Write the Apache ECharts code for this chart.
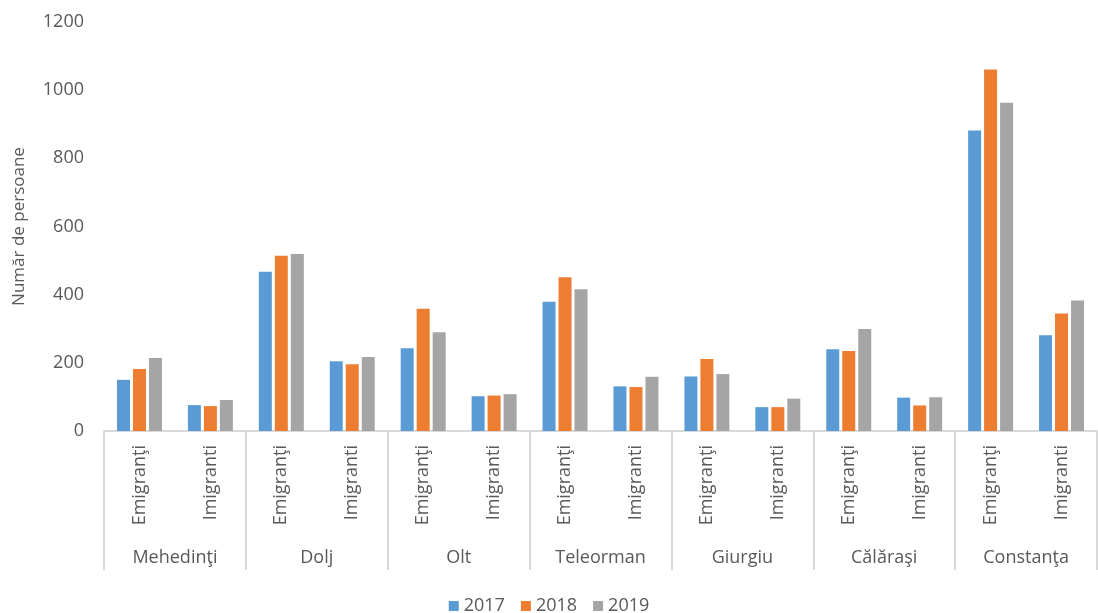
<!DOCTYPE html>
<html>
<head>
<meta charset="utf-8">
<script src="https://cdn.jsdelivr.net/npm/echarts@6/dist/echarts.min.js"></script>
<style>
html, body { margin: 0; padding: 0; background: #fff; }
#chart { width: 1098px; height: 613px; }
</style>
</head>
<body>
<div id="chart"></div>
<script>
var subCategories = ['Emigranţi', 'Imigranti', 'Emigranţi', 'Imigranti', 'Emigranţi', 'Imigranti',
    'Emigranţi', 'Imigranti', 'Emigranţi', 'Imigranti', 'Emigranţi', 'Imigranti', 'Emigranţi', 'Imigranti'];
var counties = ['Mehedinţi', 'Dolj', 'Olt', 'Teleorman', 'Giurgiu', 'Călăraşi', 'Constanţa'];
var years = ['2017', '2018', '2019'];
var values2017 = [150, 76, 467, 205, 243, 102, 379, 131, 160, 70, 240, 98, 882, 281];
var values2018 = [182, 73, 514, 196, 359, 104, 451, 129, 211, 70, 235, 75, 1061, 345];
var values2019 = [214, 91, 519, 217, 290, 108, 416, 159, 167, 95, 299, 99, 963, 383];
var yTicks = [0, 200, 400, 600, 800, 1000, 1200];

function drawChart() {
    var dom = document.getElementById('chart');
    var myChart = echarts.init(dom);
    var font = '"Open Sans", "Noto Sans", sans-serif';
    var colors = ['#5b9bd5', '#ed7d31', '#a5a5a5'];
    var allValues = [values2017, values2018, values2019];

    var series = years.map(function (y, i) {
        return {
            name: y,
            type: 'bar',
            xAxisIndex: 0,
            data: allValues[i],
            barWidth: 13,
            barGap: '23%',
            itemStyle: { color: colors[i] }
        };
    });

    var option = {
        animation: false,
        color: colors,
        textStyle: { fontFamily: font },
        grid: {
            left: 104,
            right: 1,
            top: 22,
            bottom: 182
        },
        legend: {
            data: years,
            top: 592,
            left: 'center',
            itemWidth: 10,
            itemHeight: 10,
            itemGap: 16,
            icon: 'rect',
            textStyle: { fontSize: 18, color: '#595959', fontFamily: font }
        },
        xAxis: [
            {
                type: 'category',
                data: subCategories,
                position: 'bottom',
                axisLine: { lineStyle: { color: '#d9d9d9', width: 2 } },
                axisTick: { show: false },
                axisLabel: {
                    interval: 0,
                    rotate: 90,
                    margin: 14,
                    fontSize: 18,
                    color: '#595959',
                    fontFamily: font
                }
            },
            {
                type: 'category',
                data: counties,
                position: 'bottom',
                axisLine: { show: false },
                axisTick: {
                    show: true,
                    length: 139,
                    lineStyle: { color: '#d9d9d9', width: 2 }
                },
                axisLabel: {
                    interval: 0,
                    margin: 118,
                    fontSize: 18,
                    color: '#595959',
                    fontFamily: font
                }
            }
        ],
        yAxis: {
            type: 'value',
            min: yTicks[0],
            max: yTicks[yTicks.length - 1],
            interval: 200,
            name: 'Număr de persoane',
            nameLocation: 'middle',
            nameGap: 76,
            nameTextStyle: { fontSize: 17, color: '#595959', fontFamily: font },
            axisLine: { show: false },
            axisTick: { show: false },
            splitLine: { show: false },
            axisLabel: {
                fontSize: 18,
                color: '#595959',
                margin: 20,
                fontFamily: font,
                formatter: function (v) { return String(v); }
            }
        },
        series: series
    };
    myChart.setOption(option, true);
}
drawChart();
</script>
</body>
</html>
